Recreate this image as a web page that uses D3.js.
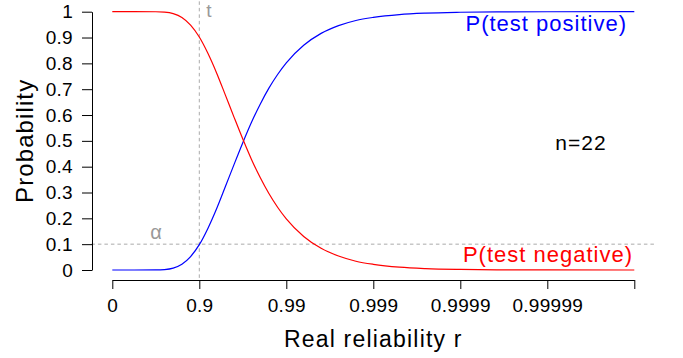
<!DOCTYPE html>
<html lang="en">
<head>
    <meta charset="utf-8">
    <title>Test reliability</title>
    <style>
        body {
            margin: 0;
            background-color: #fff;
        }
        svg text {
            font-family: "Liberation Sans", Arial, sans-serif;
        }
        .axis path, .axis line {
            stroke: #000;
            stroke-width: 1;
        }
        .axis text {
            font-size: 19px;
            letter-spacing: 0.3px;
            fill: #000;
        }
    </style>
    <script src="https://d3js.org/d3.v7.min.js" charset="utf-8"></script>
</head>
<body>
    <svg id="chart" width="683" height="358"></svg>

    <script type="text/javascript">
    // x is -log10(1 - r), so 1 step = one more nine
    var xTicks = [0, 1, 2, 3, 4, 5, 6];
    var xTickLabels = ["0", "0.9", "0.99", "0.999", "0.9999", "0.99999", ""];
    var yTicks = [0, 0.1, 0.2, 0.3, 0.4, 0.5, 0.6, 0.7, 0.8, 0.9, 1];

    var nines = [0, 0.25, 0.5, 0.6, 0.7, 0.8, 0.9, 1.0, 1.1, 1.2, 1.3, 1.4, 1.5, 1.6, 1.7,
                 1.8, 1.9, 2.0, 2.2, 2.4, 2.6, 2.8, 3.0, 3.3, 3.6, 4.0, 4.5, 5.0, 6.0];
    var pPositive = [0, 0, 0.0002, 0.0017, 0.0075, 0.0224, 0.052, 0.098, 0.162, 0.238, 0.323,
                     0.409, 0.493, 0.572, 0.642, 0.704, 0.757, 0.802, 0.870, 0.916, 0.946,
                     0.966, 0.978, 0.989, 0.9945, 0.9978, 0.9993, 0.9998, 1.0];
    var pNegative = [1, 1, 0.9998, 0.9983, 0.9925, 0.9776, 0.948, 0.902, 0.838, 0.762, 0.677,
                     0.591, 0.507, 0.428, 0.358, 0.296, 0.243, 0.198, 0.130, 0.084, 0.054,
                     0.034, 0.022, 0.011, 0.0055, 0.0022, 0.0007, 0.0002, 0];

    var threshold = 1;   // r = 0.9
    var alpha = 0.1;
    var n = 22;

    var svg = d3.select("#chart");

    var x = d3.scaleLinear().domain([0, 6]).range([112.3, 634.3]);
    var y = d3.scaleLinear().domain([0, 1]).range([270, 11.7]);

    // plot region (R style, 4% extension)
    var px0 = x(-0.24), px1 = x(6.24);
    var py0 = y(-0.04), py1 = y(1.04);

    // reference lines
    svg.append("line")
      .attr("x1", px0).attr("x2", px1)
      .attr("y1", y(alpha)).attr("y2", y(alpha))
      .attr("stroke", "#aaa").attr("stroke-dasharray", "3.5,3");
    svg.append("line")
      .attr("x1", x(threshold)).attr("x2", x(threshold))
      .attr("y1", py1).attr("y2", py0)
      .attr("stroke", "#aaa").attr("stroke-dasharray", "3.5,3");

    svg.append("text")
      .attr("x", x(threshold) + 7).attr("y", 17)
      .attr("fill", "#999").style("font-size", "19px")
      .text("t");
    svg.append("text")
      .attr("x", 156).attr("y", 239)
      .attr("text-anchor", "middle")
      .attr("fill", "#999").style("font-size", "20px")
      .text("α");

    // curves
    var line = d3.line()
      .x((d, i) => x(nines[i]))
      .y(d => y(d))
      .curve(d3.curveMonotoneX);

    svg.append("path")
      .attr("fill", "none").attr("stroke", "#0000ff").attr("stroke-width", 1.2)
      .attr("d", line(pPositive));
    svg.append("path")
      .attr("fill", "none").attr("stroke", "#ff0000").attr("stroke-width", 1.2)
      .attr("d", line(pNegative));

    // axes
    svg.append("g")
      .attr("class", "axis")
      .attr("transform", "translate(92,0)")
      .call(d3.axisLeft(y).tickValues(yTicks).tickSize(10).tickSizeOuter(0)
            .tickPadding(9).tickFormat(d => String(d)));

    svg.append("g")
      .attr("class", "axis")
      .attr("transform", "translate(0,280)")
      .call(d3.axisBottom(x).tickValues(xTicks).tickSize(9).tickSizeOuter(0)
            .tickPadding(10).tickFormat((d, i) => xTickLabels[i]));

    svg.selectAll(".axis .domain").attr("stroke", "#000");

    // titles
    svg.append("text")
      .attr("x", (x(0) + x(6)) / 2).attr("y", 347)
      .attr("text-anchor", "middle")
      .style("font-size", "23px").style("letter-spacing", "1.2px")
      .text("Real reliability r");

    svg.append("text")
      .attr("transform", "translate(33," + ((y(0) + y(1)) / 2) + ") rotate(-90)")
      .attr("text-anchor", "middle")
      .style("font-size", "24px").style("letter-spacing", "1.1px")
      .text("Probability");

    // labels
    svg.append("text")
      .attr("x", 627).attr("y", 31)
      .attr("text-anchor", "end")
      .attr("fill", "#0000ff")
      .style("font-size", "22px").style("letter-spacing", "1px")
      .text("P(test positive)");
    svg.append("text")
      .attr("x", 633).attr("y", 262)
      .attr("text-anchor", "end")
      .attr("fill", "#ff0000")
      .style("font-size", "22px").style("letter-spacing", "1px")
      .text("P(test negative)");
    svg.append("text")
      .attr("x", 581).attr("y", 150)
      .attr("text-anchor", "middle")
      .style("font-size", "21px").style("letter-spacing", "1px")
      .text("n=" + n);
    </script>
</body>
</html>
